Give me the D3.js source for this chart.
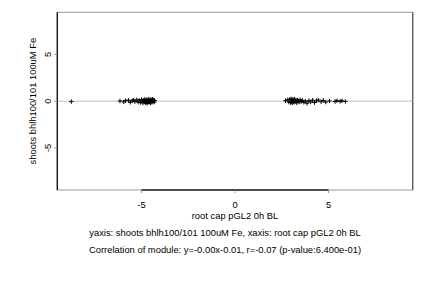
<!DOCTYPE html>
<html>
<head>
<meta charset="utf-8">
<script src="https://cdn.jsdelivr.net/npm/d3@7"></script>
<style>
  body { margin: 0; background: #fff; }
  text { font-family: "Liberation Sans", Arial, sans-serif; }
</style>
</head>
<body>
<div class="canvas"></div>
<script>
// data
const xVals = [-8.75,
  -6.15, -5.95, -5.85, -5.7, -5.6, -5.5, -5.42, -5.35, -5.25, -5.18, -5.12, -5.06, -5.0, -4.96, -4.92,
  -4.88, -4.85, -4.82, -4.79, -4.76, -4.73, -4.7, -4.68, -4.65, -4.62, -4.6, -4.57, -4.54, -4.52,
  -4.49, -4.46, -4.44, -4.41, -4.38, -4.35, -4.32, -4.3,
  2.7, 2.82, 2.88, 2.93, 2.97, 3.0, 3.03, 3.06, 3.09, 3.12, 3.15, 3.18, 3.22, 3.26, 3.3, 3.34,
  3.38, 3.43, 3.48, 3.54, 3.6, 3.68, 3.76, 3.85, 3.95, 4.05, 4.15, 4.25, 4.35, 4.45, 4.6, 4.72,
  4.85, 5.05, 5.35, 5.45, 5.62, 5.72, 5.9];
const yVals = [-0.05,
  0.02, -0.08, 0.05, 0.1, -0.12, 0.04, 0.12, -0.05, 0.15, -0.1, 0.08, -0.15, 0.18, 0.02, -0.2,
  0.1, -0.06, 0.2, -0.18, 0.06, 0.14, -0.25, 0.0, 0.16, -0.12, 0.22, -0.08, 0.1, -0.2,
  0.18, 0.04, -0.14, 0.2, -0.04, 0.12, -0.1, 0.06,
  0.05, 0.15, -0.1, 0.2, -0.15, 0.25, 0.0, -0.2, 0.18, 0.08, -0.12, 0.22, -0.05, 0.12, -0.18, 0.1,
  0.02, -0.1, 0.15, -0.05, 0.08, -0.12, 0.0, -0.22, 0.05, -0.08, 0.1, -0.15, 0.04, 0.12, -0.06, 0.08,
  -0.1, 0.02, -0.04, 0.05, -0.02, 0.04, -0.03];
const xTicks = [-5, 0, 5];
const yTicks = [-5, 0, 5];

const xLabel = "root cap pGL2 0h BL";
const yLabel = "shoots bhlh100/101 100uM Fe";
const subtitle = "yaxis: shoots bhlh100/101 100uM Fe, xaxis: root cap pGL2 0h BL";
const corrText = "Correlation of module: y=-0.00x-0.01, r=-0.07 (p-value:6.400e-01)";

const dims = {width: 432, height: 288};
const box = {left: 57.3, right: 412.7, top: 12.3, bottom: 190};
const fs = 9.4;
const noteX = 225; // the notes under the plot sit a bit right of the plot centre

const svg = d3.select(".canvas").append("svg")
    .attr("width", dims.width)
    .attr("height", dims.height);

const x = d3.scaleLinear().domain([-9.5, 9.5]).range([box.left, box.right]);
const y = d3.scaleLinear().domain([-9.5, 9.5]).range([box.bottom, box.top]);

// frame: grey box, darker right edge
svg.append("rect")
    .attr("x", box.left).attr("y", box.top)
    .attr("width", box.right - box.left).attr("height", box.bottom - box.top)
    .attr("fill", "none").attr("stroke", "#a8a8a8").attr("stroke-width", 1.2);
svg.append("line")
    .attr("x1", box.right).attr("x2", box.right)
    .attr("y1", box.top).attr("y2", box.bottom)
    .attr("stroke", "#555").attr("stroke-width", 1.2);

// zero line
svg.append("line")
    .attr("x1", box.left).attr("x2", box.right)
    .attr("y1", y(0)).attr("y2", y(0))
    .attr("stroke", "#bbb").attr("stroke-width", 1);

// left axis
svg.append("line")
    .attr("x1", box.left).attr("x2", box.left)
    .attr("y1", box.top).attr("y2", box.bottom)
    .attr("stroke", "#111").attr("stroke-width", 1.3);
svg.selectAll(".ytick").data(yTicks).enter().append("line")
    .attr("x1", box.left - 3).attr("x2", box.left)
    .attr("y1", d => y(d)).attr("y2", d => y(d))
    .attr("stroke", "#999");
svg.selectAll(".ylab").data(yTicks).enter().append("text")
    .attr("transform", d => `translate(${box.left - 6},${y(d)}) rotate(-90)`)
    .attr("text-anchor", "middle")
    .attr("font-size", fs)
    .text(d => d);

// bottom axis: black between first and last tick
svg.append("line")
    .attr("x1", x(xTicks[0])).attr("x2", x(xTicks[xTicks.length - 1]))
    .attr("y1", box.bottom).attr("y2", box.bottom)
    .attr("stroke", "#222").attr("stroke-width", 1.3);
svg.selectAll(".xtick").data(xTicks).enter().append("line")
    .attr("x1", d => x(d)).attr("x2", d => x(d))
    .attr("y1", box.bottom).attr("y2", box.bottom + 3)
    .attr("stroke", "#999");
svg.selectAll(".xlab").data(xTicks).enter().append("text")
    .attr("x", d => x(d)).attr("y", box.bottom + 18)
    .attr("text-anchor", "middle")
    .attr("font-size", fs)
    .text(d => d);

// points as plus signs
const pts = d3.zip(xVals, yVals);
svg.append("g").selectAll("path").data(pts).enter().append("path")
    .attr("d", d => {
        const cx = x(d[0]), cy = y(d[1]), s = 2.2;
        return `M${cx - s},${cy}H${cx + s}M${cx},${cy - s}V${cy + s}`;
    })
    .attr("stroke", "#000").attr("stroke-width", 1).attr("fill", "none");

// labels
svg.append("text")
    .attr("transform", `translate(36,${(box.top + box.bottom) / 2}) rotate(-90)`)
    .attr("text-anchor", "middle").attr("font-size", fs)
    .text(yLabel);
svg.append("text")
    .attr("x", (box.left + box.right) / 2).attr("y", 219)
    .attr("text-anchor", "middle").attr("font-size", fs)
    .text(xLabel);
svg.append("text")
    .attr("x", noteX).attr("y", 236)
    .attr("text-anchor", "middle").attr("font-size", fs)
    .text(subtitle);
svg.append("text")
    .attr("x", noteX).attr("y", 253)
    .attr("text-anchor", "middle").attr("font-size", fs)
    .text(corrText);
</script>
</body>
</html>
